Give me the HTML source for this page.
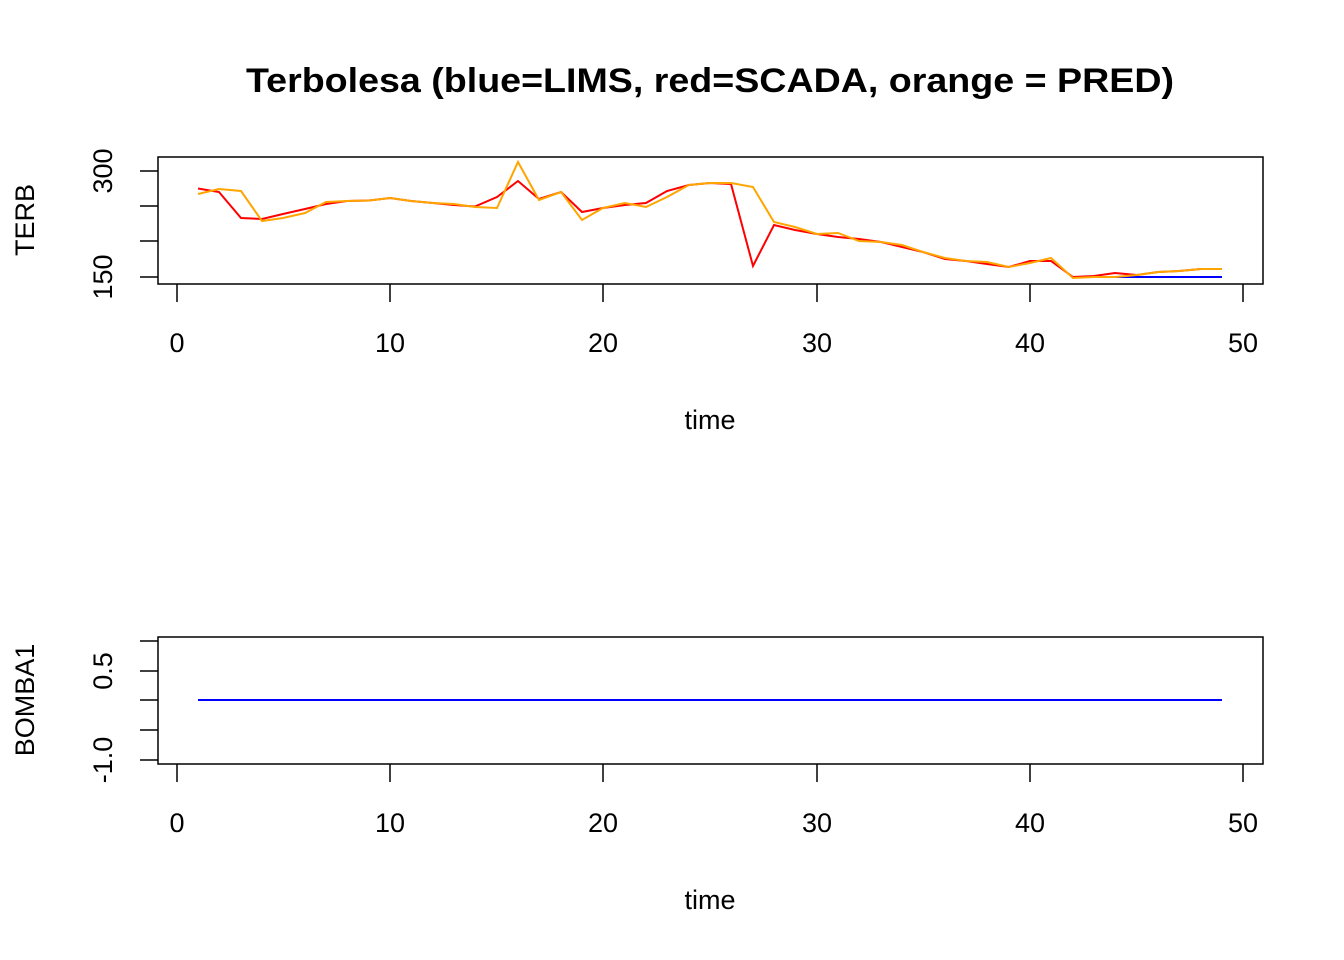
<!DOCTYPE html>
<html><head><style>body{margin:0;background:#fff}svg{display:block}</style></head><body>
<svg width="1344" height="960" xmlns="http://www.w3.org/2000/svg" font-family="Liberation Sans, sans-serif">
<text x="710" y="92" font-size="34" font-weight="bold" text-anchor="middle" textLength="928" lengthAdjust="spacingAndGlyphs">Terbolesa (blue=LIMS, red=SCADA, orange = PRED)</text>
<g fill="none" stroke="#000" stroke-width="1.5">
<rect x="158" y="157" width="1105" height="127"/>
<path d="M177 284V302M390 284V302M603 284V302M817 284V302M1030 284V302M1243 284V302"/>
<path d="M158 171H140M158 206H140M158 241H140M158 277H140"/>
<rect x="158" y="637" width="1105" height="127"/>
<path d="M177 764V782M390 764V782M603 764V782M817 764V782M1030 764V782M1243 764V782"/>
<path d="M158 641H140M158 671H140M158 700H140M158 730H140M158 760H140"/>
</g>
<g font-size="27" text-anchor="middle">
<text x="177" y="352">0</text><text x="390" y="352">10</text><text x="603" y="352">20</text><text x="817" y="352">30</text><text x="1030" y="352">40</text><text x="1243" y="352">50</text>
<text x="710" y="429">time</text>
<text x="177" y="832">0</text><text x="390" y="832">10</text><text x="603" y="832">20</text><text x="817" y="832">30</text><text x="1030" y="832">40</text><text x="1243" y="832">50</text>
<text x="710" y="909">time</text>
<text transform="translate(112,171) rotate(-90)">300</text>
<text transform="translate(112,277) rotate(-90)">150</text>
<text transform="translate(34,220) rotate(-90)">TERB</text>
<text transform="translate(112,671) rotate(-90)">0.5</text>
<text transform="translate(112,760) rotate(-90)">-1.0</text>
<text transform="translate(34,700) rotate(-90)">BOMBA1</text>
</g>
<g fill="none" stroke-width="2">
<polyline stroke="#0000ff" points="1073,277 1222,277"/>
<polyline stroke="#ff0000" points="198,188.5 219,192 241,218 262,219 283,214 305,209 326,204 347,201 369,200.5 390,198 411,201 433,203 454,205 475,206.5 497,197 518,181 539,199 561,192 582,212 603,208 625,205 646,203 667,191 689,185 710,183 731,184 753,266 774,225 795,230 817,234 838,237 859,239 881,242 902,247 923,252 945,259 966,261 987,264 1009,267 1030,261 1051,261 1073,277 1094,276 1115,273 1137,275 1158,272 1179,271 1201,269 1222,269"/>
<polyline stroke="#ffa500" points="198,194 219,189 241,191 262,221 283,218 305,213 326,202 347,201 369,200.5 390,198 411,201 433,203 454,204 475,207 497,208 518,162 539,200 561,192 582,220 603,208 625,203 646,207 667,197 689,185 710,183 731,183 753,187 774,222 795,227 817,234 838,233 859,241 881,242 902,245 923,252 945,258 966,261 987,262 1009,267 1030,263 1051,258 1073,278 1094,277 1115,277 1137,275 1158,272 1179,271 1201,269 1222,269"/>
<polyline stroke="#0000ff" points="198,700 1222,700"/>
</g>
</svg>
</body></html>
